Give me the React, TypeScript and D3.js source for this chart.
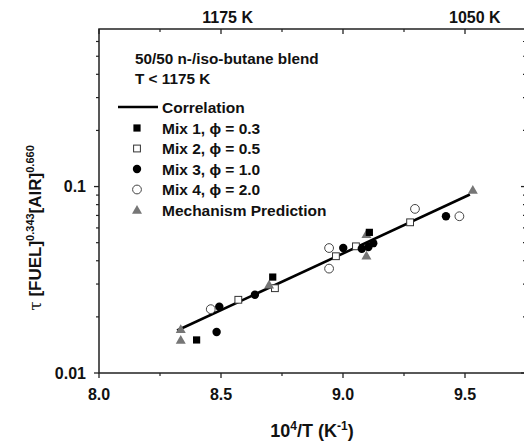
import React from "react";
import * as d3 from "d3";

// ---- data ----
const mix1X = [8.4, 8.712, 9.108];
const mix1Y = [0.01504, 0.0327, 0.0568];
const mix2X = [8.571, 8.721, 8.971, 9.053, 9.275];
const mix2Y = [0.0247, 0.0285, 0.0423, 0.0478, 0.0643];
const mix3X = [8.493, 8.482, 8.639, 9.001, 9.077, 9.104, 9.124, 9.422];
const mix3Y = [0.0227, 0.0166, 0.0263, 0.0468, 0.0464, 0.0474, 0.0497, 0.0693];
const mix4X = [8.458, 8.943, 8.943, 9.295, 9.477];
const mix4Y = [0.022, 0.0468, 0.0363, 0.0759, 0.0693];
const mechX = [8.335, 8.335, 8.697, 9.096, 9.096, 9.532];
const mechY = [0.01718, 0.01504, 0.0297, 0.0555, 0.0426, 0.0958];
const corrX = [8.32, 9.52];
const corrY = [0.0169, 0.0906];

const xMajorTicks = [8.0, 8.5, 9.0, 9.5];
const xMinorTicks = [8.25, 8.75, 9.25];
const xTickLabels = ["8.0", "8.5", "9.0", "9.5"];
const yMajorTicks = [0.01, 0.1];
const yTickLabels = ["0.01", "0.1"];
const yMinorTicks = [0.02, 0.03, 0.04, 0.05, 0.06, 0.07, 0.08, 0.09, 0.2, 0.3, 0.4, 0.5, 0.6];
const topTemps = [1175, 1050];
const topLabels = ["1175 K", "1050 K"];

const legendLabels = ["Mix 1,  \u03d5 = 0.3", "Mix 2,  \u03d5 = 0.5", "Mix 3,  \u03d5 = 1.0", "Mix 4,  \u03d5 = 2.0", "Mechanism Prediction"];

const FONT = "'Liberation Sans', Arial, sans-serif";
const AX = "#222";
const GRAY = "#767676";

function Marker({ kind, cx, cy }: { kind: string; cx: number; cy: number }) {
  if (kind === "sq") return <rect x={cx - 3.6} y={cy - 3.6} width={7.2} height={7.2} fill="#000" />;
  if (kind === "osq") return <rect x={cx - 3.4} y={cy - 3.4} width={6.8} height={6.8} fill="#fff" stroke="#333" strokeWidth={1} />;
  if (kind === "ci") return <circle cx={cx} cy={cy} r={4.2} fill="#000" />;
  if (kind === "oci") return <circle cx={cx} cy={cy} r={4.4} fill="#fff" stroke="#444" strokeWidth={1} />;
  const s = 5;
  return <path d={`M${cx},${cy - s}L${cx + s},${cy + s * 0.75}L${cx - s},${cy + s * 0.75}Z`} fill={GRAY} />;
}

export default function App() {
  const x = d3.scaleLinear().domain([8, 9.75]).range([99, 526]);
  const y = d3.scaleLog().domain([0.01, 0.7]).range([373, 29]);
  const L = 99, R = 526, T = 29, B = 373;
  const line = d3.line<number>().x((d) => x(corrX[d])).y((d) => y(corrY[d]));

  const series: [string, number[], number[]][] = [
    ["osq", mix2X, mix2Y],
    ["oci", mix4X, mix4Y],
    ["tri", mechX, mechY],
    ["sq", mix1X, mix1Y],
    ["ci", mix3X, mix3Y],
  ];
  const legendKinds = ["sq", "osq", "ci", "oci", "tri"];

  return (
    <svg width={524} height={441} style={{ position: "absolute", left: 0, top: 0, background: "#fff" }} fontFamily={FONT} fontWeight="bold">
      {/* frame */}
      <rect x={L} y={T} width={R - L} height={B - T} fill="none" stroke={AX} strokeWidth={1.5} />
      {/* bottom ticks (outward) & top ticks (inward) */}
      {xMajorTicks.map((t, i) => (
        <g key={"xm" + i}>
          <line x1={x(t)} x2={x(t)} y1={B} y2={B + 5} stroke={AX} strokeWidth={1.3} />
          <line x1={x(t)} x2={x(t)} y1={T} y2={T + 5} stroke={AX} strokeWidth={1.3} />
          <text x={x(t)} y={400} fontSize={16} textAnchor="middle" fill="#111">{xTickLabels[i]}</text>
        </g>
      ))}
      {xMinorTicks.map((t, i) => (
        <g key={"xn" + i}>
          <line x1={x(t)} x2={x(t)} y1={B} y2={B + 3} stroke={AX} strokeWidth={1.2} />
          <line x1={x(t)} x2={x(t)} y1={T} y2={T + 3} stroke={AX} strokeWidth={1.2} />
        </g>
      ))}
      {/* left ticks (outward) & right ticks (inward) */}
      {yMajorTicks.map((t, i) => (
        <g key={"ym" + i}>
          <line x1={L - 5} x2={L} y1={y(t)} y2={y(t)} stroke={AX} strokeWidth={1.3} />
          <line x1={R - 5} x2={R} y1={y(t)} y2={y(t)} stroke={AX} strokeWidth={1.3} />
          <text x={L - 13} y={y(t) + 5.5} fontSize={16} textAnchor="end" fill="#111">{yTickLabels[i]}</text>
        </g>
      ))}
      {yMinorTicks.map((t, i) => (
        <g key={"yn" + i}>
          <line x1={L - 3} x2={L} y1={y(t)} y2={y(t)} stroke={AX} strokeWidth={1.2} />
          <line x1={R - 3} x2={R} y1={y(t)} y2={y(t)} stroke={AX} strokeWidth={1.2} />
        </g>
      ))}
      {/* top temperature labels */}
      {topTemps.map((t, i) => (
        <text key={"tt" + i} x={x(1e4 / t) + 4} y={23} fontSize={16} textAnchor="middle" fill="#111">{topLabels[i]}</text>
      ))}
      {/* axis titles */}
      <text x={312} y={437} fontSize={18} textAnchor="middle" fill="#111">
        10<tspan fontSize={12} dy={-7}>4</tspan><tspan dy={7}>/T (K</tspan><tspan fontSize={12} dy={-7}>-1</tspan><tspan dy={7}>)</tspan>
      </text>
      <text transform="translate(41,228) rotate(-90)" fontSize={17} textAnchor="middle" fill="#111">
        <tspan fontFamily="'DejaVu Serif', serif" fontWeight="normal">τ</tspan> [FUEL]<tspan fontSize={11} dy={-7}>0.343</tspan><tspan dy={7}>[AIR]</tspan><tspan fontSize={11} dy={-7}>0.660</tspan>
      </text>
      {/* annotations */}
      <text x={135} y={64} fontSize={15.3} fill="#111">50/50 n-/iso-butane blend</text>
      <text x={135} y={84} fontSize={15.3} fill="#111">T &lt; 1175 K</text>
      {/* correlation line */}
      <path d={line([0, 1]) || ""} stroke="#000" strokeWidth={2.6} fill="none" />
      {/* data */}
      {series.map(([k, xs, ys], si) => (
        <g key={"s" + si}>
          {xs.map((v, i) => <Marker key={i} kind={k} cx={x(v)} cy={y(ys[i])} />)}
        </g>
      ))}
      {/* legend */}
      <line x1={118} x2={158} y1={107} y2={107} stroke="#000" strokeWidth={2.6} />
      <text x={162} y={112.5} fontSize={15.5} fill="#111">Correlation</text>
      {legendLabels.map((lab, i) => {
        const cy = 128 + i * 20.5;
        return (
          <g key={"lg" + i}>
            <Marker kind={legendKinds[i]} cx={137} cy={cy} />
            <text x={162} y={cy + 5.5} fontSize={15.5} fill="#111">{lab}</text>
          </g>
        );
      })}
    </svg>
  );
}
